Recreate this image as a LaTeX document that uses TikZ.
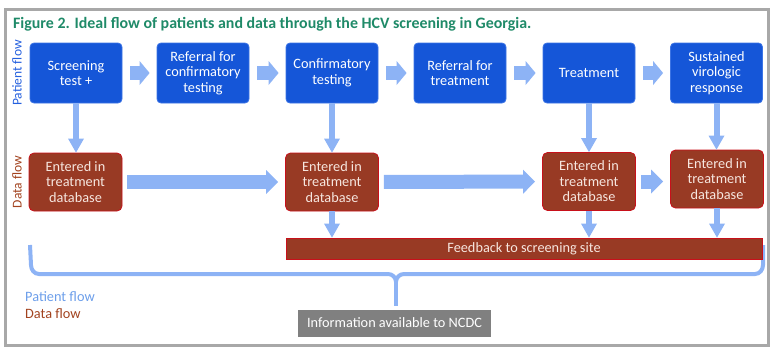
\documentclass[tikz,border=0pt]{standalone}
\usepackage{fontspec}
\setmainfont{Carlito}
\usepackage{xcolor}
\definecolor{boxblue}{HTML}{1556D8}
\definecolor{boxblueline}{HTML}{3C74E4}
\definecolor{datared}{HTML}{983A24}
\definecolor{dataline}{HTML}{C8101A}
\definecolor{datatext}{HTML}{F6E6DF}
\definecolor{flowblue}{HTML}{8DB3F5}
\definecolor{titlegreen}{HTML}{1F8A68}
\definecolor{framegray}{HTML}{A8A8A8}
\definecolor{infogray}{HTML}{808080}
\definecolor{sideblue}{HTML}{2560DE}
\definecolor{sidered}{HTML}{A2431F}
\definecolor{legendblue}{HTML}{6C9EEA}
\usepackage{tikz}
\usetikzlibrary{arrows.meta,calc}

\begin{document}
\begin{tikzpicture}[
            x=1pt,y=-1pt,font=\fontsize{14.3}{15.5}\selectfont,
            patientbox/.style={rounded corners=4pt, draw=boxblueline, line width=0.8pt, fill=boxblue, text=white, align=center, minimum width=92pt, minimum height=60pt, inner sep=2pt},
            databox/.style={rounded corners=5pt, draw=dataline, line width=0.8pt, fill=datared, text=datatext, align=center, minimum width=93pt, minimum height=58pt, inner sep=2pt},
            feedbar/.style={draw=dataline, line width=0.8pt, fill=datared, text=datatext, minimum width=476pt, minimum height=21pt, inner sep=0pt},
            infobox/.style={fill=infogray, text=white, minimum width=193pt, minimum height=27pt, inner sep=0pt},
            steparr/.style={draw=flowblue, line width=14pt, -{Triangle[length=10pt,width=24pt,line width=0pt]}, shorten <=8pt, shorten >=7pt},
            dataarr/.style={draw=flowblue, line width=14pt, -{Triangle[length=12pt,width=24pt,line width=0pt]}, shorten <=5pt, shorten >=7pt},
            droparr/.style={draw=flowblue, line width=6pt, -{Triangle[length=14pt,width=16pt,line width=0pt]}},
            bracearr/.style={draw=flowblue, line width=4pt},
            sidelabel/.style={rotate=90, font=\fontsize{13.5}{15}\selectfont}
        ]
            \useasboundingbox (0,0) rectangle (776,349);
            % frame and title
            \draw[framegray, line width=3pt] (5.5,9) rectangle (768,345.5);
            \node[anchor=base west, text=titlegreen, font=\bfseries\fontsize{15.9}{17}\selectfont, inner sep=0pt] (title) at (13,28.5) {Figure 2. Ideal flow of patients and data through the HCV screening in Georgia.};
            \node[sidelabel, text=sideblue] (pflabel) at (17,73) {Patient flow};
            \node[sidelabel, text=sidered] (dflabel) at (17,182) {Data flow};

            % patient flow
            \node[patientbox] (b1) at (76,73) {Screening\\test +};
            \node[patientbox] (b2) at (203,73) {Referral for\\confirmatory\\testing};
            \node[patientbox] (b3) at (332,73) {Confirmatory\\testing};
            \node[patientbox] (b4) at (460,73) {Referral for\\treatment};
            \node[patientbox] (b5) at (589,73) {Treatment};
            \node[patientbox] (b6) at (716.5,73) {Sustained\\virologic\\response};
            \foreach \a/\b in {b1/b2,b2/b3,b3/b4,b4/b5,b5/b6} {\draw[steparr] (\a) -- (\b);}

            % data flow
            \node[databox] (d1) at (75.5,182) {Entered in\\treatment\\database};
            \node[databox] (d2) at (332,182) {Entered in\\treatment\\database};
            \node[databox] (d3) at (589,181.5) {Entered in\\treatment\\database};
            \node[databox] (d4) at (717,179) {Entered in\\treatment\\database};
            \foreach \a/\b in {b1/d1,b3/d2,b5/d3,b6/d4} {\draw[droparr] (\a.south) -- (\a.south |- \b.north);}
            \draw[dataarr] (d1) -- (d2);
            \draw[dataarr] (d2) -- (d3);
            \draw[dataarr] (d3.east) -- (d3.east -| d4.west);

            % brace to NCDC
            \node[infobox] (info) at (394.5,323) {Information available to NCDC};
            \coordinate (braceL) at (30,245);
            \coordinate (braceR) at (763,245);
            \coordinate (braceM) at (396,282);
            \draw[bracearr] (braceL) -- (31,265) to[out=-90,in=180] (39,274) -- (388,274) to[out=0,in=90] (braceM);
            \draw[bracearr] (braceR) -- (763,265) to[out=-90,in=0] (755,274) -- (404,274) to[out=180,in=90] (braceM);
            \draw[bracearr, shorten >=3pt] (braceM) -- (braceM |- info.north);

            % feedback
            \node[feedbar] (fb) at (524,248.5) {Feedback to screening site};
            \foreach \d in {d2,d3,d4} {\draw[droparr] (\d.south) -- (\d.south |- fb.north);}

            % legend
            \node[anchor=west, text=legendblue, inner sep=0pt] (legpatient) at (25,297) {Patient flow};
            \node[anchor=west, text=sidered, inner sep=0pt] (legdata) at (25,314) {Data flow};
        \end{tikzpicture}
\end{document}
